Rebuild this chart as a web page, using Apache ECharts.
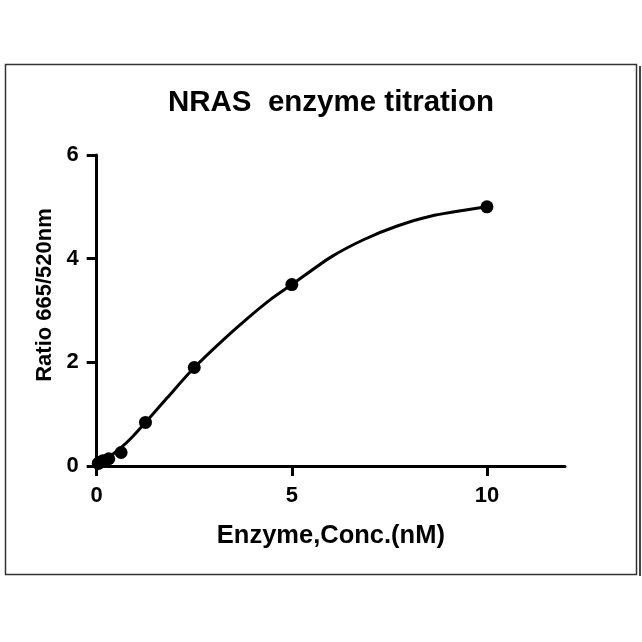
<!DOCTYPE html>
<html>
<head>
<meta charset="utf-8">
<script src="https://cdn.jsdelivr.net/npm/echarts@6/dist/echarts.min.js"></script>
<style>html,body{margin:0;padding:0;background:#fff;}#c{width:642px;height:642px;}</style>
</head>
<body>
<div id="c"></div>
<script>
// Measured data points
const concX = [0.04, 0.08, 0.16, 0.31, 0.625, 1.25, 2.5, 5, 10];
const ratioY = [0.05, 0.07, 0.10, 0.14, 0.26, 0.84, 1.90, 3.50, 5.00];
// Fitted curve
const curveX = [0, 0.3, 0.6, 0.9, 1.25, 1.8, 2.5, 3.25, 3.85, 4.45, 5, 6, 6.85, 7.7, 8.55, 10];
const curveY = [0.04, 0.17, 0.34, 0.55, 0.84, 1.31, 1.90, 2.44, 2.84, 3.21, 3.50, 4.03, 4.37, 4.63, 4.82, 5.00];
const xTicks = [0, 5, 10];
const yTicks = [0, 2, 4, 6];
const titleText = 'NRAS  enzyme titration';
const xName = 'Enzyme,Conc.(nM)';
const yName = 'Ratio 665/520nm';

const chart = echarts.init(document.getElementById('c'), null, {renderer: 'canvas'});
const font = 'Liberation Sans, Arial, sans-serif';
chart.setOption({
  animation: false,
  backgroundColor: '#fff',
  grid: {left: 96.7, top: 155, right: 77, bottom: 176, containLabel: false},
  xAxis: {
    type: 'value', min: 0, max: 12, interval: 5,
    splitLine: {show: false},
    axisLine: {show: true, lineStyle: {color: '#000', width: 3}},
    axisTick: {show: true, length: 10, lineStyle: {color: '#000', width: 3}, customValues: xTicks},
    axisLabel: {color: '#000', fontSize: 22, fontWeight: 'bold', fontFamily: font, margin: 19, customValues: xTicks},
    name: xName, nameLocation: 'middle', nameGap: 57,
    nameTextStyle: {color: '#000', fontSize: 25.5, fontWeight: 'bold', fontFamily: font}
  },
  yAxis: {
    type: 'value', min: 0, max: 6, interval: 2,
    splitLine: {show: false},
    axisLine: {show: true, lineStyle: {color: '#000', width: 3}},
    axisTick: {show: true, length: 10, lineStyle: {color: '#000', width: 3}, customValues: yTicks},
    axisLabel: {color: '#000', fontSize: 22, fontWeight: 'bold', fontFamily: font, margin: 18, customValues: yTicks}
  },
  graphic: [
    {type: 'rect', shape: {x: 5.5, y: 64.5, width: 631, height: 510}, style: {fill: 'none', stroke: '#333', lineWidth: 1.5}},
    {type: 'line', shape: {x1: 640, y1: 66, x2: 640, y2: 576}, style: {stroke: '#444', lineWidth: 2}},
    {type: 'text', x: 331, y: 103, style: {text: titleText, fill: '#000', font: 'bold 29.5px ' + font, textAlign: 'center', textVerticalAlign: 'middle'}},
    {type: 'text', x: 45, y: 295, rotation: Math.PI / 2, style: {text: yName, fill: '#000', font: 'bold 22px ' + font, textAlign: 'center', textVerticalAlign: 'middle'}}
  ],
  series: [
    {
      type: 'line', data: curveX.map((x, i) => [x, curveY[i]]),
      smooth: 0.25, showSymbol: false, lineStyle: {color: '#000', width: 3}, z: 2
    },
    {
      type: 'scatter', data: concX.map((x, i) => [x, ratioY[i]]),
      symbol: 'circle', symbolSize: 13, itemStyle: {color: '#000', opacity: 1}, z: 3
    }
  ]
});
</script>
</body>
</html>
